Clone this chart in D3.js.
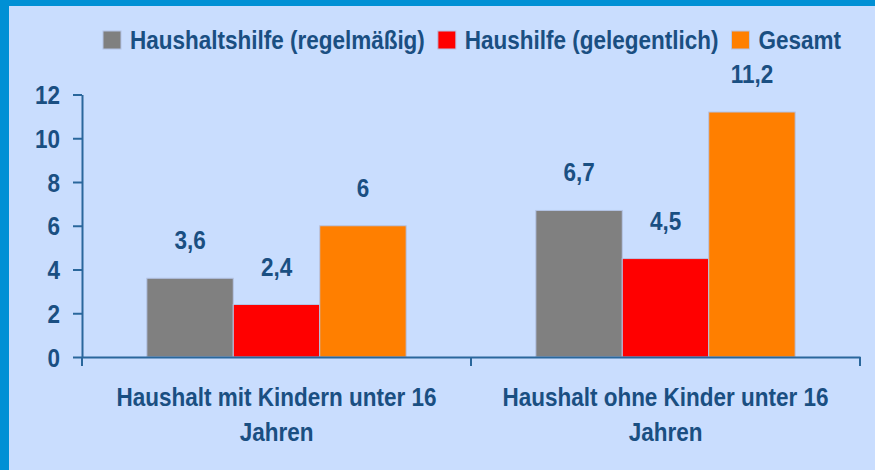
<!DOCTYPE html>
<meta charset="utf-8">
<style>
body { margin: 0; }
svg text {
    font-family: "Liberation Sans", Arial, sans-serif;
    font-weight: bold;
    font-size: 25px;
    fill: #1a4f82;
}
.axis path, .axis line { stroke: #2a679c; stroke-width: 2px; }
.bar { stroke: #b4c4e6; stroke-width: 1px; }
</style>
<body>
<script src="https://d3js.org/d3.v7.min.js"></script>
<script>
// data
var categories = [
    ["Haushalt mit Kindern unter 16", "Jahren"],
    ["Haushalt ohne Kinder unter 16", "Jahren"]
];
var seriesNames = ["Haushaltshilfe (regelmäßig)", "Haushilfe (gelegentlich)", "Gesamt"];
var seriesColors = ["#808080", "#ff0000", "#ff7f00"];
var valuesRegular = [3.6, 6.7];
var valuesOccasional = [2.4, 4.5];
var valuesTotal = [6, 11.2];
var yTicks = [0, 2, 4, 6, 8, 10, 12];

var seriesValues = [valuesRegular, valuesOccasional, valuesTotal];
var fmt = function (v) { return String(v).replace(".", ","); };

var W = 875, H = 470;
var sx = 0.9; // narrow the bold font a bit, like the original
var svg = d3.select("body").append("svg")
    .attr("width", W)
    .attr("height", H);

// puts a horizontally squeezed text at x,y
function label(parent, x, y, txt, anchor) {
    return parent.append("text")
        .attr("transform", "translate(" + x + "," + y + ") scale(" + sx + ",1)")
        .attr("text-anchor", anchor || "start")
        .text(txt);
}

// background + frame
svg.append("rect").attr("width", W).attr("height", H).attr("fill", "#c9ddfe");
svg.append("rect").attr("width", W).attr("height", 6).attr("fill", "#0090d5");
svg.append("rect").attr("width", 9).attr("height", H).attr("fill", "#0090d5");

var plotLeft = 82, plotRight = 860, plotTop = 94.5, plotBottom = 357;

var y = d3.scaleLinear().domain([0, 12]).range([plotBottom, plotTop]);
var x0 = d3.scaleBand().domain(d3.range(categories.length)).range([plotLeft, plotRight]).padding(0);
var x1 = d3.scaleBand().domain(d3.range(seriesNames.length))
    .range([0, x0.bandwidth()]).paddingInner(0).paddingOuter(0.75);

// bars
var groups = svg.selectAll(".grp")
    .data(categories)
    .enter().append("g")
    .attr("transform", function (d, i) { return "translate(" + x0(i) + ",0)"; });

groups.each(function (c, ci) {
    var g = d3.select(this);
    seriesValues.forEach(function (vals, si) {
        var v = vals[ci];
        g.append("rect")
            .attr("class", "bar")
            .attr("x", x1(si))
            .attr("y", y(v))
            .attr("width", x1.bandwidth())
            .attr("height", y(0) - y(v))
            .attr("fill", seriesColors[si]);
        label(g, x1(si) + x1.bandwidth() / 2, y(v) - 29, fmt(v), "middle");
    });
});

// y axis
var yAxis = svg.append("g")
    .attr("class", "axis")
    .attr("transform", "translate(" + plotLeft + ",0)")
    .call(d3.axisLeft(y).tickValues(yTicks).tickSize(9).tickSizeOuter(0).tickPadding(13));
yAxis.selectAll("text")
    .attr("fill", null)
    .attr("x", -22 / sx)
    .attr("dy", null)
    .attr("y", 9)
    .attr("transform", "scale(" + sx + ",1)");

// x axis
var xAxis = svg.append("g")
    .attr("class", "axis")
    .attr("transform", "translate(0," + plotBottom + ")")
    .call(d3.axisBottom(x0).tickSize(0).tickSizeOuter(0).tickFormat(""));

var bounds = x0.domain().map(function (d) { return x0(d); }).concat([plotRight]);
xAxis.selectAll(".bound")
    .data(bounds)
    .enter().append("line")
    .attr("x1", function (d) { return d; })
    .attr("x2", function (d) { return d; })
    .attr("y1", 0)
    .attr("y2", 9);

// category labels
categories.forEach(function (lines, i) {
    lines.forEach(function (ln, li) {
        label(svg, x0(i) + x0.bandwidth() / 2, 406 + li * 35, ln, "middle");
    });
});

// legend
var legend = svg.append("g");
var lx = 103;
seriesNames.forEach(function (name, i) {
    legend.append("rect")
        .attr("x", lx)
        .attr("y", 31)
        .attr("width", 18)
        .attr("height", 18)
        .attr("fill", seriesColors[i])
        .attr("stroke", "#b4c4e6");
    var t = label(legend, lx + 27, 49, name);
    lx += 27 + t.node().getComputedTextLength() * sx + 13;
});
</script>
</body>
